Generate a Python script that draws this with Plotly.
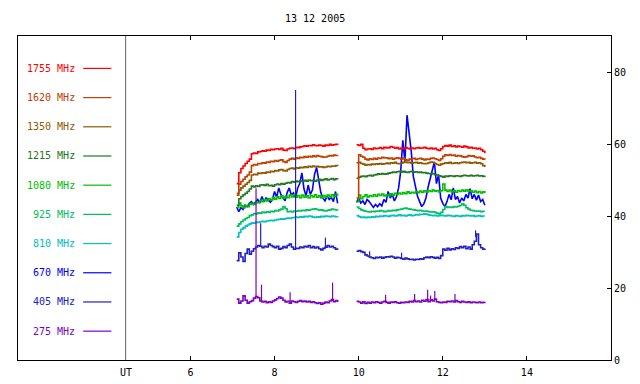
import plotly.graph_objects as go
import numpy as np

# ---------------- data ----------------
title_text = "13 12 2005"
freq_labels = ["1755 MHz", "1620 MHz", "1350 MHz", "1215 MHz", "1080 MHz",
               "925 MHz", "810 MHz", "670 MHz", "405 MHz", "275 MHz"]
colors = ["#ff0000", "#c04000", "#8c5a00", "#207820", "#00c000",
          "#00c060", "#00c0c0", "#0000ff", "#2020c0", "#8000c0"]

x_tick_vals = [6, 8, 10, 12, 14]
y_tick_vals = [0, 20, 40, 60, 80]
ut_position = 4.46

# time samples (UT hours), segment 1 and segment 2
t1 = [7.10, 7.15, 7.20, 7.25, 7.30, 7.35, 7.40, 7.45, 7.50, 7.55,
      7.60, 7.65, 7.70, 7.75, 7.80, 7.85, 7.90, 7.95, 8.00, 8.05,
      8.10, 8.15, 8.20, 8.25, 8.30, 8.35, 8.40, 8.45, 8.50, 8.55,
      8.60, 8.65, 8.70, 8.75, 8.80, 8.85, 8.90, 8.95, 9.00, 9.05,
      9.10, 9.15, 9.20, 9.25, 9.30, 9.35, 9.40, 9.45, 9.50]
t2 = [9.95, 10.00, 10.05, 10.10, 10.15, 10.20, 10.25, 10.30, 10.35, 10.40,
      10.45, 10.50, 10.55, 10.60, 10.65, 10.70, 10.75, 10.80, 10.85, 10.90,
      10.95, 11.00, 11.05, 11.10, 11.15, 11.20, 11.25, 11.30, 11.35, 11.40,
      11.45, 11.50, 11.55, 11.60, 11.65, 11.70, 11.75, 11.80, 11.85, 11.90,
      11.95, 12.00, 12.05, 12.10, 12.15, 12.20, 12.25, 12.30, 12.35, 12.40,
      12.45, 12.50, 12.55, 12.60, 12.65, 12.70, 12.75, 12.80, 12.85, 12.90,
      12.95, 13.00]

f1755_a = [49.0, 52.0, 53.2, 53.9, 54.6, 55.2, 55.8, 57.3, 57.5, 57.4,
           57.8, 57.9, 58.1, 58.0, 58.3, 58.2, 58.5, 58.4, 58.6, 58.7,
           58.5, 58.8, 58.3, 58.2, 58.6, 58.8, 58.9, 58.7, 59.1, 59.0,
           59.2, 59.3, 59.5, 59.4, 59.6, 59.5, 59.8, 59.6, 59.5, 59.7,
           59.6, 59.4, 59.7, 59.6, 59.9, 59.7, 59.8, 59.9, 59.7]
f1755_b = [59.8, 59.6, 59.9, 58.8, 58.4, 58.6, 58.7, 58.5, 58.9, 58.7,
           58.8, 59.0, 58.7, 59.1, 58.9, 59.0, 59.3, 59.1, 58.8, 59.0,
           58.6, 58.9, 58.7, 59.0, 58.8, 58.6, 58.9, 58.7, 58.9, 59.0,
           58.8, 58.9, 59.1, 58.8, 58.7, 58.9, 58.6, 58.8, 58.4, 58.2,
           58.7, 59.3, 59.6, 59.4, 59.7, 59.3, 59.5, 59.2, 59.4, 59.3,
           59.1, 59.4, 59.2, 58.9, 59.1, 58.8, 58.9, 58.6, 58.8, 58.4,
           58.0, 57.4]

f1620_a = [46.3, 48.8, 49.6, 50.2, 50.9, 51.4, 52.2, 54.0, 54.3, 54.2,
           54.6, 54.5, 54.8, 54.7, 55.0, 54.9, 55.2, 55.1, 55.4, 55.2,
           55.5, 55.6, 55.1, 54.9, 55.4, 55.8, 56.0, 55.8, 56.2, 56.0,
           56.3, 56.2, 56.5, 56.3, 56.6, 56.4, 56.7, 56.5, 56.8, 56.6,
           56.5, 56.3, 56.4, 56.6, 56.8, 56.7, 56.9, 56.8, 56.9]
f1620_b = [45.0, 57.0, 56.6, 56.3, 55.8, 55.6, 55.9, 55.7, 56.0, 55.8,
           56.1, 56.0, 56.3, 56.1, 56.2, 55.9, 56.1, 55.8, 56.0, 56.2,
           56.0, 55.8, 56.1, 55.6, 55.4, 55.8, 55.9, 56.0, 55.7, 55.9,
           56.0, 55.8, 55.6, 55.8, 55.7, 56.0, 56.1, 55.9, 55.7, 55.4,
           55.9, 56.6, 57.0, 56.8, 57.1, 56.8, 56.9, 56.6, 56.8, 56.7,
           56.5, 56.3, 56.5, 56.8, 56.6, 56.7, 56.4, 56.2, 56.3, 56.0,
           55.8, 55.6]

f1350_a = [45.8, 47.2, 47.8, 48.3, 48.8, 49.3, 49.9, 51.4, 51.6, 51.5,
           51.9, 51.8, 52.0, 51.9, 52.2, 52.1, 52.4, 52.3, 52.6, 52.5,
           52.8, 52.9, 52.6, 52.5, 52.9, 53.2, 53.3, 53.1, 53.4, 53.3,
           53.5, 53.4, 53.7, 53.5, 53.8, 53.6, 53.9, 53.7, 53.8, 53.6,
           53.7, 53.5, 53.6, 53.8, 53.7, 53.9, 53.8, 54.0, 53.9]
f1350_b = [54.8, 54.9, 54.6, 54.4, 54.1, 54.3, 54.2, 54.4, 54.3, 54.5,
           54.4, 54.6, 54.4, 54.5, 54.7, 54.5, 54.8, 54.7, 54.9, 54.6,
           54.5, 54.7, 54.9, 55.0, 54.8, 54.9, 54.7, 54.8, 54.9, 54.7,
           54.8, 54.6, 54.5, 54.6, 54.8, 55.0, 54.9, 54.6, 54.3, 54.1,
           54.4, 54.6, 54.8, 54.7, 54.9, 54.6, 54.7, 54.8, 54.6, 54.8,
           54.9, 55.0, 54.8, 54.9, 54.7, 54.8, 54.9, 54.7, 54.8, 54.5,
           54.0, 53.6]

f1215_a = [43.0, 44.8, 45.4, 45.9, 46.3, 46.8, 47.5, 48.3, 48.1, 48.4,
           48.2, 48.6, 48.7, 48.5, 48.8, 48.4, 48.5, 48.3, 48.7, 48.9,
           48.7, 49.0, 48.8, 49.1, 49.3, 49.2, 49.6, 49.4, 49.7, 49.5,
           49.8, 49.6, 49.9, 49.7, 50.0, 49.8, 49.9, 49.7, 50.0, 50.2,
           49.9, 50.1, 50.3, 50.0, 50.2, 50.4, 50.1, 50.3, 50.2]
f1215_b = [50.5, 50.8, 51.0, 51.1, 50.9, 51.2, 51.3, 51.1, 51.4, 51.5,
           51.7, 51.6, 51.8, 51.6, 51.7, 51.9, 52.0, 52.2, 52.1, 52.3,
           52.4, 52.2, 52.4, 52.2, 52.1, 52.3, 52.4, 52.2, 52.3, 52.1,
           52.2, 52.0, 52.1, 51.9, 51.8, 51.7, 51.8, 51.5, 51.4, 51.2,
           51.0, 50.8, 51.1, 51.0, 51.2, 51.1, 51.0, 51.2, 51.1, 51.0,
           51.2, 51.3, 51.2, 51.1, 51.3, 51.1, 51.2, 51.3, 51.1, 51.2,
           51.0, 50.8]

f1080_a = [42.4, 43.6, 42.8, 42.3, 42.9, 42.6, 43.3, 43.6, 43.2, 43.9,
           43.7, 44.3, 44.0, 44.6, 44.2, 44.8, 44.4, 45.1, 44.7, 45.3,
           44.9, 45.6, 45.0, 45.5, 45.1, 45.8, 45.3, 45.9, 45.2, 45.7,
           45.1, 45.8, 45.2, 45.6, 45.0, 45.7, 45.3, 45.9, 45.2, 45.6,
           45.0, 45.7, 45.2, 45.8, 45.3, 45.9, 45.4, 46.0, 45.6]
f1080_b = [44.0, 45.8, 44.8, 45.4, 45.9, 45.3, 45.7, 45.4, 45.9, 45.5,
           46.0, 45.7, 46.1, 45.6, 45.9, 45.6, 46.2, 45.8, 46.3, 46.0,
           46.4, 46.1, 46.5, 46.2, 46.7, 46.3, 46.6, 46.4, 46.8, 46.5,
           46.9, 46.6, 47.0, 46.7, 47.1, 46.8, 47.2, 46.9, 47.1, 46.7,
           47.0, 48.9, 47.2, 46.8, 47.2, 46.7, 47.0, 46.6, 47.1, 46.8,
           47.2, 46.9, 47.3, 46.8, 47.0, 46.6, 46.9, 46.5, 46.8, 46.4,
           46.7, 46.4]

f925_a = [37.2, 37.8, 38.4, 38.9, 39.3, 39.6, 40.1, 40.3, 40.7, 40.6,
          40.9, 40.8, 41.1, 40.9, 41.2, 41.0, 41.3, 41.2, 41.5, 41.4,
          41.7, 41.9, 42.6, 42.0, 41.2, 41.3, 41.1, 41.4, 41.3, 41.5,
          41.4, 41.6, 41.5, 41.7, 41.6, 41.8, 41.9, 42.0, 41.8, 41.6,
          41.7, 41.5, 41.4, 41.6, 41.7, 41.9, 41.8, 41.7, 41.8]
f925_b = [42.5, 42.1, 41.7, 41.5, 41.3, 41.2, 41.1, 41.3, 41.2, 41.4,
          41.3, 41.5, 41.4, 41.2, 41.3, 41.5, 41.4, 41.6, 41.5, 41.7,
          41.8, 41.9, 42.1, 42.2, 42.0, 41.9, 41.8, 41.7, 41.6, 41.5,
          41.6, 41.4, 41.3, 41.4, 41.2, 41.1, 41.2, 41.0, 40.8, 40.6,
          41.0, 41.8, 42.6, 42.4, 42.5, 42.4, 42.6, 42.5, 42.7, 42.9,
          43.4, 43.0, 42.3, 41.9, 41.6, 41.5, 41.4, 41.3, 41.4, 41.2,
          41.3, 41.3]

f810_a = [34.2, 35.4, 36.3, 36.7, 37.2, 37.5, 37.8, 38.1, 38.0, 38.3,
          38.2, 38.4, 38.5, 38.4, 38.6, 38.7, 38.8, 38.7, 38.9, 39.0,
          39.1, 39.2, 39.1, 39.3, 39.4, 39.3, 39.5, 39.6, 39.7, 39.6,
          39.8, 39.7, 39.9, 39.8, 40.0, 39.9, 39.7, 39.6, 39.8, 39.7,
          39.9, 39.8, 40.0, 39.9, 39.8, 40.0, 39.9, 39.8, 39.9]
f810_b = [40.1, 39.8, 39.6, 39.7, 39.5, 39.7, 39.6, 39.8, 39.7, 39.9,
          39.8, 40.0, 39.9, 40.1, 40.0, 39.9, 40.1, 40.2, 40.0, 40.1,
          40.3, 40.1, 40.2, 40.0, 40.2, 40.3, 40.1, 40.2, 40.4, 40.3,
          40.5, 40.4, 40.6, 40.5, 40.3, 40.2, 40.1, 40.2, 40.0, 40.1,
          40.2, 40.1, 40.0, 40.2, 40.1, 40.0, 39.9, 40.1, 40.0, 39.9,
          40.1, 40.0, 40.2, 40.1, 40.0, 40.1, 39.9, 40.0, 40.1, 39.9,
          40.0, 40.0]

f670_a = [42.5, 41.2, 42.3, 41.8, 43.0, 42.6, 43.5, 44.0, 43.2, 43.8,
          44.6, 43.6, 45.4, 44.0, 45.0, 44.6, 43.8, 44.5, 46.8, 45.2,
          47.8, 46.0, 45.1, 44.2, 46.5, 47.8, 45.8, 46.4, 45.0, 47.8,
          49.0, 52.0, 47.5, 45.6, 48.6, 46.0, 47.2, 51.5, 53.5, 49.5,
          46.5, 45.0, 44.2, 45.5, 44.6, 45.2, 44.0, 46.8, 43.5]
f670_b = [43.8, 45.0, 43.6, 44.2, 43.2, 44.6, 44.0, 43.0, 42.4, 43.2,
          42.6, 43.4, 42.8, 44.6, 43.8, 46.8, 45.0, 46.0, 44.2, 45.4,
          47.8, 52.5, 61.0, 55.0, 68.0, 63.0, 58.0, 51.0, 48.0, 45.5,
          44.0, 42.6, 43.4, 45.0, 48.0, 50.5, 52.5, 55.0, 49.0, 51.5,
          45.0, 43.5, 42.6, 44.0, 46.0, 44.5, 47.8, 44.6, 45.4, 43.6,
          45.0, 44.2, 46.0, 45.0, 47.6, 44.8, 46.0, 44.4, 45.8, 44.0,
          44.6, 43.0]

f405_a = [27.6, 29.8, 28.6, 27.4, 29.6, 30.8, 29.4, 30.2, 30.9, 31.4,
          31.8, 31.6, 31.2, 31.6, 31.4, 32.2, 31.8, 31.5, 31.2, 31.6,
          30.8, 31.0, 31.5, 31.2, 31.8, 32.2, 31.4, 30.8, 31.0, 31.0,
          31.4, 31.2, 31.6, 31.4, 31.8, 31.2, 31.5, 31.1, 31.4, 30.9,
          30.6, 31.0, 31.3, 31.8, 31.4, 31.6, 31.2, 30.8, 30.6]
f405_b = [30.2, 30.4, 30.1, 29.9, 29.2, 28.9, 28.6, 28.4, 28.2, 28.5,
          28.4, 28.6, 28.3, 28.5, 28.7, 28.6, 28.8, 28.6, 28.3, 28.5,
          28.4, 28.2, 28.0, 28.3, 28.1, 27.9, 28.0, 27.8, 28.0, 27.9,
          28.1, 28.0, 28.4, 28.6, 28.4, 28.7, 28.5, 28.3, 28.5, 28.2,
          29.0, 30.8, 30.5, 31.0, 30.6, 30.9, 30.7, 31.2, 31.0, 31.5,
          31.2, 31.6, 30.9, 31.4, 30.8, 32.0, 33.0, 35.0, 32.0, 31.2,
          30.8, 31.0]

f275_a = [16.9, 15.8, 16.4, 17.8, 16.6, 15.8, 16.2, 16.5, 17.2, 17.6,
          17.3, 16.4, 16.1, 16.3, 15.9, 16.2, 16.0, 16.4, 16.7, 17.1,
          17.5, 17.2, 16.6, 16.1, 16.3, 15.8, 16.4, 16.2, 16.0, 16.3,
          16.5, 16.2, 16.4, 16.1, 16.3, 16.0, 16.2, 15.9, 15.7, 15.9,
          15.5, 15.8, 16.1, 15.9, 16.4, 16.8, 16.2, 16.5, 16.1]
f275_b = [16.3, 16.1, 15.8, 16.2, 15.7, 16.0, 15.8, 16.1, 15.9, 16.2,
          16.0, 15.8, 16.1, 16.3, 16.0, 15.8, 16.1, 16.0, 16.2, 15.9,
          15.8, 16.0, 15.9, 16.1, 16.0, 16.3, 16.1, 16.5, 16.2, 16.4,
          16.1, 16.6, 16.3, 16.8, 16.2, 16.7, 16.4, 16.9, 16.2, 16.0,
          15.9, 16.1, 16.0, 16.3, 16.2, 16.4, 16.1, 16.5, 16.2, 16.0,
          16.3, 16.1, 16.0, 16.2, 15.9, 16.1, 16.0, 15.9, 16.1, 15.9,
          16.0, 16.1]

# short impulsive spikes (time, peak value)
spike405_t = [7.67, 8.50, 9.21, 10.26, 11.02, 12.78]
spike405_v = [38.0, 75.0, 34.0, 30.2, 29.8, 36.0]
spike275_t = [7.56, 7.69, 8.37, 9.38, 10.64, 11.33, 11.64, 11.71, 11.81, 12.29]
spike275_v = [47.7, 20.9, 18.8, 21.5, 18.1, 18.3, 19.5, 17.9, 19.2, 18.3]

series = [
    (f1755_a, f1755_b), (f1620_a, f1620_b), (f1350_a, f1350_b),
    (f1215_a, f1215_b), (f1080_a, f1080_b), (f925_a, f925_b),
    (f810_a, f810_b), (f670_a, f670_b), (f405_a, f405_b), (f275_a, f275_b),
]

# ---------------- figure ----------------
FONT = "DejaVu Sans Mono"
fig = go.Figure()

draw_order = [7, 8, 9, 6, 5, 4, 3, 2, 1, 0]
for i in draw_order:
    a, b = series[i]
    shape = "linear" if i == 7 else "hv"
    fig.add_trace(go.Scatter(
        x=t1 + [None] + t2, y=a + [None] + b, mode="lines",
        line=dict(color=colors[i], width=1.6, shape=shape), showlegend=False,
        hoverinfo="skip"))

t_all = t1 + t2


def spike_trace(ts, vs, seg_a, seg_b, color):
    base_all = seg_a + seg_b
    xs, ys = [], []
    for t, v in zip(ts, vs):
        base = float(np.interp(t, t_all, base_all))
        xs += [t, t, None]
        ys += [base, v, None]
    return go.Scatter(x=xs, y=ys, mode="lines", line=dict(color=color, width=1.2),
                      showlegend=False, hoverinfo="skip")


fig.add_trace(spike_trace(spike275_t, spike275_v, f275_a, f275_b, colors[9]))
fig.add_trace(spike_trace(spike405_t, spike405_v, f405_a, f405_b, colors[8]))

# UT separator line
fig.add_shape(type="line", xref="x", yref="paper", x0=ut_position, x1=ut_position,
              y0=0, y1=1, line=dict(color="#606060", width=1))

# legend inside the plot area (left panel)
for i, (lab, col) in enumerate(zip(freq_labels, colors)):
    yv = 81.0 - 8.11 * i
    fig.add_annotation(x=3.30, y=yv, xref="x", yref="y", text=lab, showarrow=False,
                       xanchor="right", yanchor="middle",
                       font=dict(family=FONT, size=10, color=col))
    fig.add_shape(type="line", xref="x", yref="y", x0=3.45, x1=4.12, y0=yv, y1=yv,
                  line=dict(color=col, width=1.2))

fig.add_annotation(x=ut_position, y=0, xref="x", yref="paper", yshift=-12,
                   text="UT", showarrow=False, xanchor="center", yanchor="middle",
                   font=dict(family=FONT, size=10, color="black"))

fig.add_annotation(x=0.5, y=1, xref="paper", yref="paper", yshift=18,
                   text=title_text, showarrow=False, xanchor="center", yanchor="middle",
                   font=dict(family=FONT, size=10, color="black"))

# page body has an 8px margin, so the figure is drawn 8px smaller and shifted
fig.update_layout(
    width=630, height=374,
    margin=dict(l=10, r=27, t=28, b=22, autoexpand=False),
    paper_bgcolor="white", plot_bgcolor="white",
    font=dict(family=FONT, size=10, color="black"),
    showlegend=False,
    xaxis=dict(range=[1.9, 16.0], tickvals=x_tick_vals,
               ticktext=[str(v) for v in x_tick_vals],
               ticks="inside", ticklen=4, tickcolor="black",
               showline=True, linecolor="black", linewidth=1, mirror="ticks",
               showgrid=False, zeroline=False, automargin=False,
               ticklabelstandoff=3),
    yaxis=dict(range=[0, 90], tickvals=y_tick_vals, side="right",
               ticks="inside", ticklen=4, tickcolor="black",
               showline=True, linecolor="black", linewidth=1, mirror=True,
               showgrid=False, zeroline=False, automargin=False),
)

fig.write_html("out.html")
